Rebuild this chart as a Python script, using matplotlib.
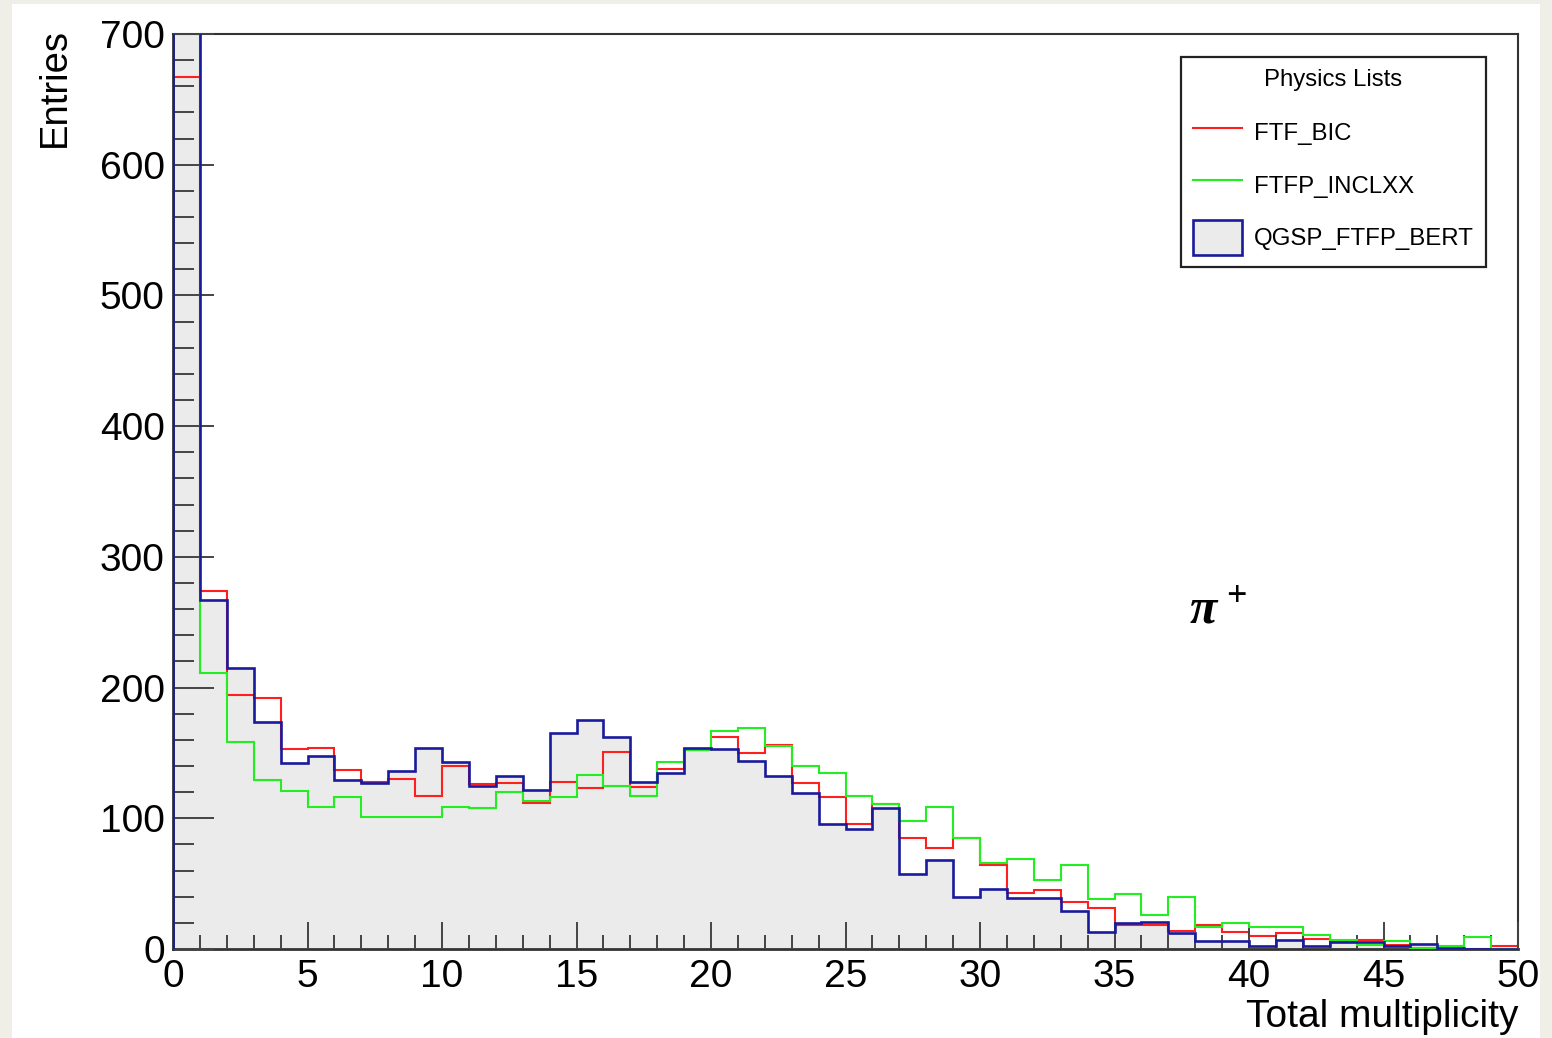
import numpy as np
import matplotlib
matplotlib.use('Agg')
import matplotlib.pyplot as plt
from matplotlib.patches import Rectangle, Patch
from matplotlib.lines import Line2D

plt.rcParams['font.family'] = ['Liberation Sans', 'DejaVu Sans']

# 50 bins of unit width, multiplicity 0..50
edges = np.arange(0, 51)

# entries per bin (first bin runs off the top of the frame)
ftf_bic = [667, 274, 194, 192, 153, 154, 137, 128, 130, 117,
           140, 126, 127, 112, 128, 123, 151, 124, 138, 153,
           162, 150, 156, 127, 116, 96, 111, 85, 77, 85,
           64, 43, 45, 36, 31, 18, 18, 14, 18, 13,
           10, 12, 8, 6, 7, 3, 1, 0, 0, 2]
ftfp_inclxx = [720, 211, 158, 129, 121, 109, 116, 101, 101, 101,
               109, 108, 120, 113, 116, 133, 125, 117, 143, 152,
               167, 169, 155, 140, 135, 117, 111, 98, 109, 85,
               66, 69, 53, 64, 38, 42, 26, 40, 17, 20,
               17, 17, 11, 7, 3, 6, 1, 2, 9, 0]
qgsp_ftfp_bert = [740, 267, 215, 174, 142, 148, 129, 127, 136, 154,
                  143, 125, 132, 122, 165, 175, 162, 128, 135, 154,
                  153, 144, 132, 119, 96, 92, 108, 57, 68, 40,
                  46, 39, 39, 29, 13, 20, 21, 12, 6, 6,
                  2, 7, 2, 5, 5, 2, 4, 1, 0, 0]

labels = ['FTF_BIC', 'FTFP_INCLXX', 'QGSP_FTFP_BERT']
red = '#ff1f1f'
green = '#22ee22'
blue = '#1a1a9c'
fill_grey = '#ebebeb'

W, H = 1552, 1038
fig = plt.figure(figsize=(W / 100, H / 100), dpi=100, facecolor='#efeee7')
# white canvas inside the light border
fig.add_artist(Rectangle((12 / W, 0), (1540 - 12) / W, 1 - 4 / H,
                         transform=fig.transFigure, facecolor='white',
                         edgecolor='none', zorder=-1))

ax = fig.add_axes([173 / W, 89 / H, 1345 / W, 915 / H])
ax.set_axisbelow(False)

ax.stairs(qgsp_ftfp_bert, edges, fill=True, color=fill_grey, zorder=1)
ax.stairs(ftf_bic, edges, color=red, lw=1.5, zorder=2)
ax.stairs(ftfp_inclxx, edges, color=green, lw=1.5, zorder=3)
ax.stairs(qgsp_ftfp_bert, edges, color=blue, lw=1.9, zorder=4)

ax.set_xlim(0, 50)
ax.set_ylim(0, 700)

ax.set_xticks(np.arange(0, 51, 5))
ax.set_xticks(np.arange(0, 51, 1), minor=True)
ax.set_yticks(np.arange(0, 701, 100))
ax.set_yticks(np.arange(0, 701, 20), minor=True)
ax.tick_params(axis='both', which='both', direction='in', top=False, right=False,
               color='#444444', width=1.4)
ax.tick_params(axis='y', which='major', length=29.5, pad=6, labelsize=28)
ax.tick_params(axis='y', which='minor', length=15)
ax.tick_params(axis='x', which='major', length=19.5, pad=7, labelsize=28)
ax.tick_params(axis='x', which='minor', length=10)

for side in ['left', 'right', 'top', 'bottom']:
    ax.spines[side].set_color('#333333')
    ax.spines[side].set_linewidth(1.5)
ax.spines['left'].set_linewidth(2)
ax.spines['bottom'].set_linewidth(2)

ax.set_xlabel('Total multiplicity', fontsize=28, loc='right')
ax.xaxis.set_label_coords(1.0, -0.055)
ax.set_ylabel('Entries', fontsize=27.5, loc='top')
ax.yaxis.set_label_coords(-0.0748, 1.0066)

handles = [Line2D([], [], color=red, lw=1.5),
           Line2D([], [], color=green, lw=1.5),
           Patch(facecolor=fill_grey, edgecolor=blue, lw=1.9)]
leg = ax.legend(handles, labels, title='Physics Lists', loc='upper right',
                bbox_to_anchor=(1486 / W, 1 - 57 / H), bbox_transform=fig.transFigure,
                borderaxespad=0, fontsize=17.3, title_fontsize=17.3,
                fancybox=False, edgecolor='#222222', framealpha=1,
                handlelength=2.05, handleheight=1.9, handletextpad=0.5,
                labelspacing=0.7, borderpad=0.5)
leg.get_frame().set_linewidth(1.6)
# a bit more room between the title and the entries
leg._legend_box.sep += 5

# particle tag
ax.text(0.766, 0.370, 'π', transform=ax.transAxes, fontsize=36,
        family='Liberation Serif', fontweight='bold', style='italic',
        ha='center', va='center')
ax.text(0.7905, 0.384, '+', transform=ax.transAxes, fontsize=26,
        family='Liberation Serif', fontweight='bold', ha='center', va='center')

fig.savefig('out.png', dpi=100, facecolor=fig.get_facecolor())
